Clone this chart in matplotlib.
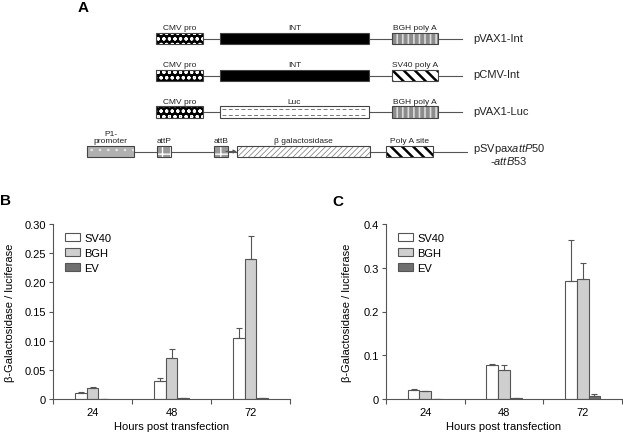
import matplotlib
matplotlib.use("Agg")
import numpy as np
import matplotlib.pyplot as plt
from matplotlib.patches import Rectangle

plt.rcParams['font.family'] = ['Liberation Sans', 'DejaVu Sans']
plt.rcParams['mathtext.fontset'] = 'custom'
plt.rcParams['mathtext.rm'] = 'Liberation Sans'
plt.rcParams['mathtext.it'] = 'Liberation Sans:italic'
plt.rcParams['font.size'] = 8

# ---- data ----
hours = ["24", "48", "72"]
series = ["SV40", "BGH", "EV"]

b_sv40 = [0.011, 0.031, 0.105]
b_sv40_err = [0.0012, 0.005, 0.017]
b_bgh = [0.019, 0.070, 0.240]
b_bgh_err = [0.0015, 0.015, 0.039]
b_ev = [0.0006, 0.001, 0.0015]
b_ev_err = [0.0, 0.0, 0.0003]

c_sv40 = [0.0205, 0.078, 0.270]
c_sv40_err = [0.0025, 0.003, 0.093]
c_bgh = [0.0175, 0.066, 0.274]
c_bgh_err = [0.0015, 0.011, 0.036]
c_ev = [0.0005, 0.002, 0.0075]
c_ev_err = [0.0, 0.0, 0.0035]

b_yticks = [0, 0.05, 0.10, 0.15, 0.20, 0.25, 0.30]
b_yticklabels = ["0", "0.05", "0.10", "0.15", "0.20", "0.25", "0.30"]
c_yticks = [0, 0.1, 0.2, 0.3, 0.4]
c_yticklabels = ["0", "0.1", "0.2", "0.3", "0.4"]

fills = ["white", "#cfcfcf", "#707070"]
edge = "#555555"

W, H = 623, 435
fig = plt.figure(figsize=(W / 100, H / 100), dpi=100)

# ---- panel A: construct diagram (pixel coordinates) ----
ax0 = fig.add_axes([0, 0, 1, 1])
ax0.set_xlim(0, W)
ax0.set_ylim(H, 0)
ax0.axis("off")

styles = {
    "cmv": dict(fc="black", hc="white", hatch="ooo", lw=0.8),
    "int": dict(fc="black", hc="black", hatch=None, lw=0.6),
    "bgh": dict(fc="#8c8c8c", hc="#dcdcdc", hatch="|||", lw=1.2),
    "sv40": dict(fc="white", hc="black", hatch="\\\\\\", lw=1.8),
    "luc": dict(fc="white", hc="white", hatch=None, lw=0.7),
    "p1": dict(fc="#b0b0b0", hc="#e8e8e8", hatch="..", lw=0.6),
    "att": dict(fc="#999999", hc="white", hatch="++", lw=1.0),
    "bgal": dict(fc="white", hc="#777777", hatch="//////", lw=0.5),
}

rows = [
    (39.5, 462, [("cmv", 156, 203, "CMV pro"), ("int", 220, 369, "INT"),
                 ("bgh", 392, 438, "BGH poly A")], "pVAX1-Int"),
    (76.5, 462, [("cmv", 156, 203, "CMV pro"), ("int", 220, 369, "INT"),
                 ("sv40", 392, 438, "SV40 poly A")], "pCMV-Int"),
    (113.0, 462, [("cmv", 156, 203, "CMV pro"), ("luc", 220, 369, "Luc"),
                  ("bgh", 392, 438, "BGH poly A")], "pVAX1-Luc"),
    (152.5, 467, [("p1", 87, 134, "P1-\npromoter"), ("att", 157, 171, "attP"),
                  ("att", 214, 228, "attB"), ("bgal", 237, 370, "β galactosidase"),
                  ("sv40", 386, 433, "Poly A site")], None),
]

bh = 11.5
for yc, xend, elems, name in rows:
    ax0.plot([elems[0][2], xend], [yc, yc], color="#555555", lw=0.8, zorder=1)
    for key, x0, x1, lab in elems:
        s = styles[key]
        p = Rectangle((x0, yc - bh / 2), x1 - x0, bh, facecolor=s["fc"],
                      edgecolor=s["hc"], hatch=s["hatch"], lw=0, zorder=2)
        if hasattr(p, "set_hatch_linewidth"):
            p.set_hatch_linewidth(s["lw"])
        ax0.add_patch(p)
        if key == "luc":
            for dy in (-2.6, 2.6):
                ax0.plot([x0 + 2, x1 - 2], [yc + dy, yc + dy], color="#777777",
                         lw=0.7, ls=(0, (4, 2.5)), zorder=2.5)
        ax0.add_patch(Rectangle((x0, yc - bh / 2), x1 - x0, bh, fill=False,
                                edgecolor="#444444", lw=0.8, zorder=3))
        ax0.text((x0 + x1) / 2, yc - bh / 2 - 1.5, lab, ha="center", va="bottom",
                 fontsize=6, color="#222222", linespacing=1.1)
    if name:
        ax0.text(473, yc - 1, name, ha="left", va="center", fontsize=8, color="#222222")

ax0.annotate("", xy=(237, 152.5), xytext=(226, 152.5),
             arrowprops=dict(arrowstyle="-|>", color="#555555", lw=0.8,
                             mutation_scale=5, shrinkA=0, shrinkB=0), zorder=4)
ax0.text(509, 149, "pSVpax$\\mathit{attP}$50", ha="center", va="center", fontsize=8, color="#222222")
ax0.text(509, 161.5, "-$\\mathit{attB}$53", ha="center", va="center", fontsize=8, color="#222222")

fig.text(78 / W, 1 - 8 / H, "A", fontsize=11, fontweight="bold", va="center")
fig.text(0 / W, 1 - 201 / H, "B", fontsize=11, fontweight="bold", va="center")
fig.text(332 / W, 1 - 202 / H, "C", fontsize=11, fontweight="bold", va="center")


# ---- panels B and C ----
def bar_panel(rect, vals, errs, yticks, yticklabels, ymax):
    ax = fig.add_axes(rect)
    x = np.arange(len(hours))
    w = 0.15
    for i, (v, e) in enumerate(zip(vals, errs)):
        ax.bar(x + (i - 1) * w, v, w, color=fills[i], edgecolor=edge, lw=0.8,
               label=series[i], zorder=2)
        ax.errorbar(x + (i - 1) * w, v, yerr=[np.zeros(len(e)), e], fmt="none",
                    ecolor=edge, elinewidth=0.8, capsize=2.5, capthick=0.8, zorder=3)
    ax.set_xlim(-0.5, 2.5)
    ax.set_ylim(0, ymax)
    ax.set_xticks(x)
    ax.set_xticklabels(hours, fontsize=8)
    ax.set_xticks([-0.5, 0.5, 1.5, 2.5], minor=True)
    ax.tick_params(axis="x", which="major", length=0, pad=6)
    ax.tick_params(axis="x", which="minor", length=3.5, width=0.8, color=edge)
    ax.set_yticks(yticks)
    ax.set_yticklabels(yticklabels, fontsize=8)
    ax.tick_params(axis="y", length=3, width=0.8, color=edge, pad=2)
    for sp in ["top", "right"]:
        ax.spines[sp].set_visible(False)
    for sp in ["left", "bottom"]:
        ax.spines[sp].set_color(edge)
        ax.spines[sp].set_linewidth(0.8)
    ax.set_xlabel("Hours post transfection", fontsize=8, labelpad=3)
    ax.set_ylabel("β-Galactosidase / luciferase", fontsize=8)
    ax.legend(loc="upper left", bbox_to_anchor=(0.05, 0.95), frameon=False,
              borderpad=0, borderaxespad=0, handlelength=1.4, handleheight=0.75,
              handletextpad=0.35, labelspacing=0.45, fontsize=8)
    return ax


axB = bar_panel([53 / W, 35 / H, 237 / W, 175 / H],
                [b_sv40, b_bgh, b_ev], [b_sv40_err, b_bgh_err, b_ev_err],
                b_yticks, b_yticklabels, 0.30)
axB.yaxis.set_label_coords(-0.16, 0.5)

axC = bar_panel([386 / W, 35 / H, 236 / W, 175 / H],
                [c_sv40, c_bgh, c_ev], [c_sv40_err, c_bgh_err, c_ev_err],
                c_yticks, c_yticklabels, 0.40)
axC.yaxis.set_label_coords(-0.145, 0.5)

fig.savefig("out.png", dpi=100)
